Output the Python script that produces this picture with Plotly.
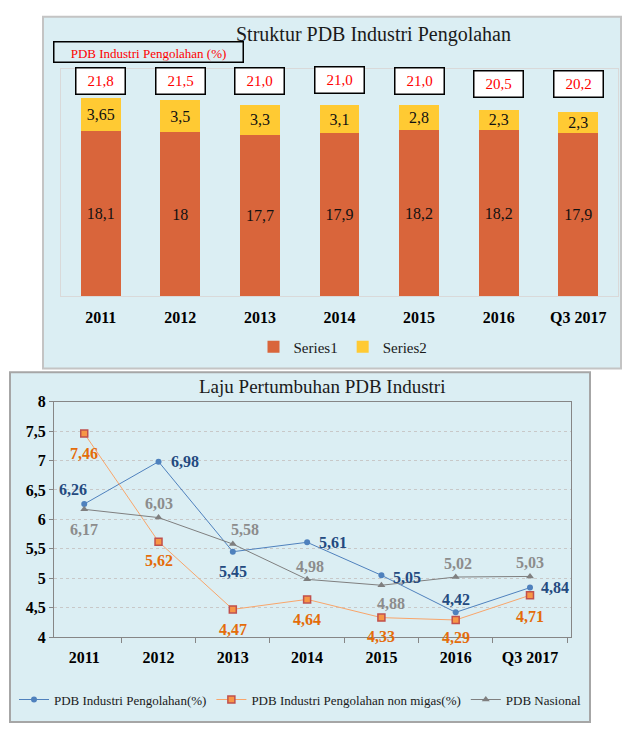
import plotly.graph_objects as go

# ---------------- data ----------------
categories = ["2011", "2012", "2013", "2014", "2015", "2016", "Q3 2017"]
series1 = [18.1, 18.0, 17.7, 17.9, 18.2, 18.2, 17.9]
series2 = [3.65, 3.5, 3.3, 3.1, 2.8, 2.3, 2.3]
totals = [21.8, 21.5, 21.0, 21.0, 21.0, 20.5, 20.2]

pengolahan = [6.26, 6.98, 5.45, 5.61, 5.05, 4.42, 4.84]
non_migas = [7.46, 5.62, 4.47, 4.64, 4.33, 4.29, 4.71]
nasional = [6.17, 6.03, 5.58, 4.98, 4.88, 5.02, 5.03]
y2_ticks = [4, 4.5, 5, 5.5, 6, 6.5, 7, 7.5, 8]

# label offsets (px) for the line chart labels
off_pengolahan = [(-11, 15), (26, 0), (0, -20), (26, 0), (26, -2), (0, 13), (25, 0)]
off_non_migas = [(0, -20), (0, -19), (0, -20), (0, -20), (0, -19), (0, -18), (0, -21)]
off_nasional = [(0, -20), (0, 14), (12, 15), (3, 13), (10, -18), (2, 14), (0, 14)]
# vertical position of the total boxes (fraction of the bar plot height)
box_pos = [0.945, 0.945, 0.945, 0.95, 0.945, 0.93, 0.93]

W, H = 622, 732
SERIF = "Liberation Serif"


def fmt(v):
    return f"{v:g}".replace(".", ",")


def px_x(p):
    return p / W


def px_y(p):
    return 1 - p / H


fig = go.Figure()

# ---------------- top chart: stacked bars ----------------
fig.add_trace(go.Bar(
    x=categories, y=series1, name="Series1", marker=dict(color="#D9653B", line=dict(width=0)),
    text=[fmt(v) for v in series1], textposition="inside", insidetextanchor="middle",
    textfont=dict(family=SERIF, size=16, color="#111111"), constraintext="none",
    width=0.5, xaxis="x", yaxis="y", legend="legend", hoverinfo="skip"))
fig.add_trace(go.Bar(
    x=categories, y=series2, name="Series2", marker=dict(color="#FFCA33", line=dict(width=0)),
    text=[fmt(v) for v in series2], textposition="inside", insidetextanchor="middle",
    textfont=dict(family=SERIF, size=16, color="#111111"), constraintext="none",
    width=0.5, xaxis="x", yaxis="y", legend="legend", hoverinfo="skip"))

# ---------------- bottom chart: lines ----------------
fig.add_trace(go.Scatter(
    x=categories, y=pengolahan, name="PDB Industri Pengolahan(%)", mode="lines+markers",
    line=dict(color="#4F81BD", width=1),
    marker=dict(symbol="circle", size=6, color="#4F81BD"),
    xaxis="x2", yaxis="y2", legend="legend2"))
fig.add_trace(go.Scatter(
    x=categories, y=non_migas, name="PDB Industri Pengolahan non migas(%)", mode="lines+markers",
    line=dict(color="#F9A56A", width=1),
    marker=dict(symbol="square", size=7, color="#F79646", line=dict(color="#C0504D", width=1.5)),
    xaxis="x2", yaxis="y2", legend="legend2"))
fig.add_trace(go.Scatter(
    x=categories, y=nasional, name="PDB Nasional", mode="lines+markers",
    line=dict(color="#7F7F7F", width=1),
    marker=dict(symbol="triangle-up", size=7, color="#7F7F7F"),
    xaxis="x2", yaxis="y2", legend="legend2"))

annotations = []

# total boxes above bars
for i, t in enumerate(totals):
    annotations.append(dict(
        x=i, y=box_pos[i], xref="x", yref="y domain", text=f"{t:.1f}".replace(".", ","),
        xanchor="center", yanchor="middle",
        showarrow=False, font=dict(family=SERIF, size=15, color="#FF0000"),
        bordercolor="#000000", borderwidth=1.5, bgcolor="#FFFFFF",
        width=46, height=23, align="center", valign="middle"))

# red label box
annotations.append(dict(
    x=px_x(148), y=px_y(45), xref="paper", yref="paper", text="PDB Industri Pengolahan (%)",
    showarrow=False, font=dict(family=SERIF, size=13, color="#FF0000"),
    bordercolor="#000000", borderwidth=1.5, width=186, height=17, valign="bottom",
    xanchor="center", yanchor="middle"))

# titles
annotations.append(dict(
    x=px_x(373), y=px_y(27), xref="paper", yref="paper", text="Struktur PDB Industri Pengolahan",
    showarrow=False, font=dict(family=SERIF, size=20, color="#1a1a1a"),
    xanchor="center", yanchor="middle"))
annotations.append(dict(
    x=px_x(322), y=px_y(387), xref="paper", yref="paper", text="Laju Pertumbuhan PDB Industri",
    showarrow=False, font=dict(family=SERIF, size=19, color="#1a1a1a"),
    xanchor="center", yanchor="middle"))

# line labels
for vals, offs, col in [
    (pengolahan, off_pengolahan, "#244A80"),
    (non_migas, off_non_migas, "#E46C0A"),
    (nasional, off_nasional, "#8C8C8C"),
]:
    for i, v in enumerate(vals):
        dx, dy = offs[i]
        annotations.append(dict(
            x=i, y=v, xref="x2", yref="y2", text=f"<b>{fmt(v)}</b>",
            xanchor="center", yanchor="middle",
            showarrow=False, xshift=dx, yshift=dy,
            font=dict(family=SERIF, size=16, color=col)))

shapes = [
    # top panel background
    dict(type="rect", xref="paper", yref="paper", x0=px_x(43), x1=px_x(621), y0=px_y(369), y1=px_y(9),
         fillcolor="#DBEEF3", line=dict(color="#C4C4C4", width=2), layer="below"),
    # bottom panel background
    dict(type="rect", xref="paper", yref="paper", x0=px_x(10), x1=px_x(590), y0=px_y(731), y1=px_y(373),
         fillcolor="#DBEEF3", line=dict(color="#A6A6A6", width=2), layer="below"),
]

fig.update_layout(
    width=W, height=H, margin=dict(l=0, r=0, t=0, b=0),
    paper_bgcolor="#FFFFFF", plot_bgcolor="#FFFFFF",
    barmode="stack", separators=",.", showlegend=True,
    font=dict(family=SERIF, color="#000000"),
    xaxis=dict(domain=[px_x(61), px_x(618)], anchor="y", type="category", showgrid=False,
               showline=True, mirror=True, linecolor="#D9D9D9", linewidth=1,
               ticks="outside", ticklen=7, tickcolor="rgba(0,0,0,0)",
               tickfont=dict(family=SERIF, size=16, color="#000000", weight="bold"),
               fixedrange=True),
    yaxis=dict(domain=[px_y(295), px_y(62)], anchor="x", range=[0, 25], showgrid=False,
               zeroline=False, showticklabels=False, showline=True, mirror=True,
               linecolor="#D9D9D9", fixedrange=True),
    xaxis2=dict(domain=[px_x(54), px_x(571)], anchor="y2", type="category", showgrid=False,
                showline=True, mirror=True, linecolor="#868686", linewidth=1,
                ticks="outside", tickson="boundaries", ticklen=5, tickcolor="#868686",
                ticklabelstandoff=6,
                tickfont=dict(family=SERIF, size=16, color="#000000", weight="bold"),
                fixedrange=True),
    yaxis2=dict(domain=[px_y(644), px_y(403)], anchor="x2", range=[4, 8], tickvals=y2_ticks,
                ticktext=[fmt(v) for v in y2_ticks],
                showgrid=True, gridcolor="#C8C8C8", griddash="dot", gridwidth=1, zeroline=False,
                showline=True, mirror=True, linecolor="#868686",
                ticks="outside", ticklen=4, tickcolor="#868686",
                tickfont=dict(family=SERIF, size=16, color="#000000", weight="bold"),
                fixedrange=True),
    legend=dict(orientation="h", x=px_x(343), y=px_y(347), xanchor="center", yanchor="middle",
                font=dict(family=SERIF, size=15, color="#1a1a1a"), bgcolor="rgba(0,0,0,0)",
                traceorder="normal", itemwidth=30),
    legend2=dict(orientation="h", x=px_x(300), y=px_y(708), xanchor="center", yanchor="middle",
                 font=dict(family=SERIF, size=13, color="#1a1a1a"), bgcolor="rgba(0,0,0,0)",
                 traceorder="normal", itemwidth=30),
    annotations=annotations, shapes=shapes,
)

fig.write_html("out.html")
